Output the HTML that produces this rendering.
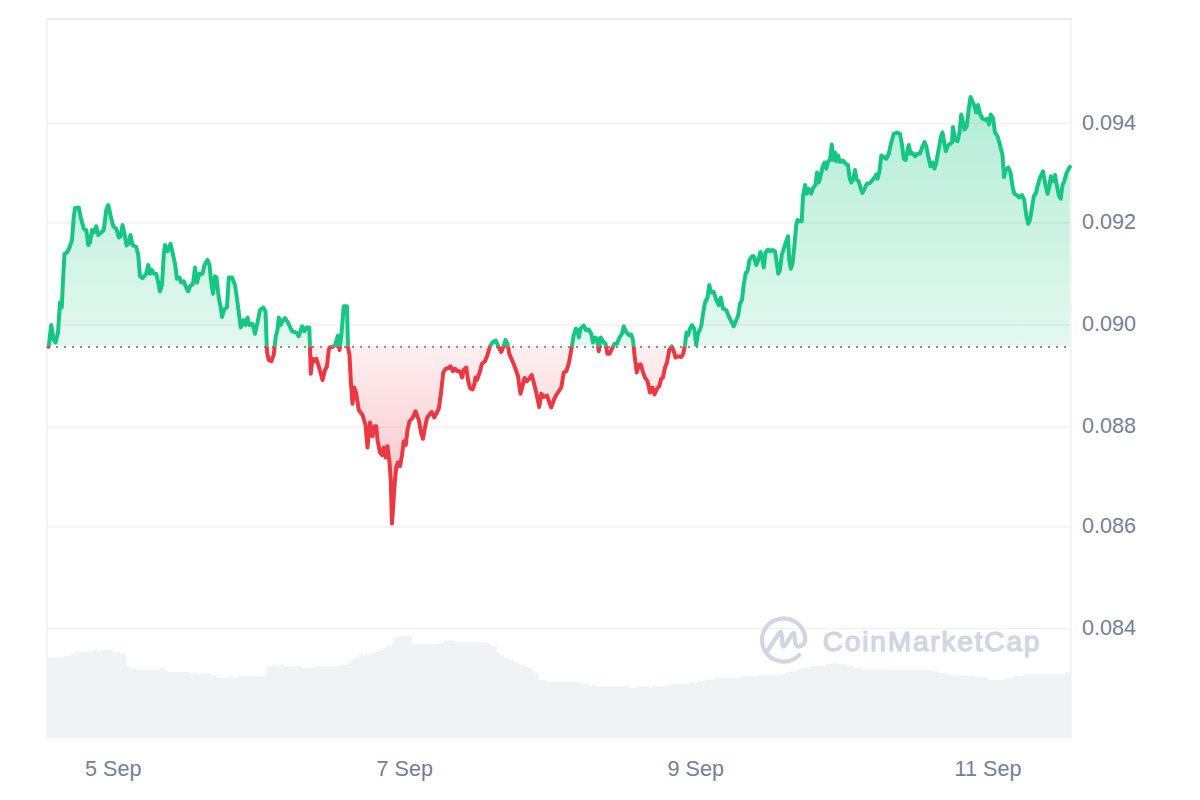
<!DOCTYPE html>
<html lang="en">
<head>
<meta charset="utf-8">
<title>Price chart</title>
<style>
html,body{margin:0;padding:0;background:#fff;}
body{width:1200px;height:800px;overflow:hidden;}
svg{display:block;}
text{font-family:"Liberation Sans",Arial,sans-serif;}
.ax{font-size:21.6px;fill:#73809a;}
.wm{font-size:28px;font-weight:normal;fill:#cfd6e4;stroke:#cfd6e4;stroke-width:1.25px;stroke-linejoin:round;stroke-linecap:round;}
</style>
</head>
<body>
<svg width="1200" height="800" viewBox="0 0 1200 800">
<defs>
<linearGradient id="gUp" gradientUnits="userSpaceOnUse" x1="0" y1="95" x2="0" y2="346.2"><stop offset="0" stop-color="#16c784" stop-opacity="0.33"/><stop offset="1" stop-color="#16c784" stop-opacity="0.12"/></linearGradient>
<linearGradient id="gDn" gradientUnits="userSpaceOnUse" x1="0" y1="346.2" x2="0" y2="525"><stop offset="0" stop-color="#ea3943" stop-opacity="0.075"/><stop offset="1" stop-color="#ea3943" stop-opacity="0.34"/></linearGradient>
<clipPath id="cUp"><rect x="0" y="0" width="1200" height="346.2"/></clipPath>
<clipPath id="cDn"><rect x="0" y="346.2" width="1200" height="453.8"/></clipPath>
</defs>
<rect width="1200" height="800" fill="#ffffff"/>
<g stroke="#f0f1f3" stroke-width="1.6" fill="none">
<line x1="47.0" y1="123.5" x2="1071.5" y2="123.5"/>
<line x1="47.0" y1="223.0" x2="1071.5" y2="223.0"/>
<line x1="47.0" y1="325.0" x2="1071.5" y2="325.0"/>
<line x1="47.0" y1="427.2" x2="1071.5" y2="427.2"/>
<line x1="47.0" y1="527.0" x2="1071.5" y2="527.0"/>
<line x1="47.0" y1="628.5" x2="1071.5" y2="628.5"/>
</g>
<path d="M46.5,737.5 L47.0,658.0 L58.8,658.0 L58.8,657.5 L63.8,657.5 L63.8,655.8 L71.2,655.8 L71.2,653.8 L75.0,653.8 L75.0,652.0 L92.5,652.0 L92.5,650.0 L97.5,650.0 L97.5,652.0 L100.0,652.0 L100.0,650.0 L113.8,650.0 L113.8,652.0 L120.0,652.0 L120.0,653.8 L126.2,653.8 L126.2,666.2 L130.0,666.2 L130.0,668.2 L136.2,668.2 L136.2,670.0 L160.0,670.0 L160.0,668.2 L165.0,668.2 L165.0,670.0 L167.5,670.0 L167.5,672.0 L190.0,672.0 L190.0,673.2 L195.0,673.2 L195.0,672.0 L197.5,672.0 L197.5,673.8 L211.2,673.8 L211.2,675.5 L217.5,675.5 L217.5,678.0 L230.0,678.0 L230.0,676.2 L232.0,676.2 L232.0,678.0 L237.5,678.0 L237.5,676.2 L266.2,676.2 L266.2,667.0 L268.8,667.0 L268.8,666.2 L273.8,666.2 L273.8,664.5 L276.2,664.5 L276.2,666.2 L280.0,666.2 L280.0,664.5 L283.8,664.5 L283.8,666.2 L301.2,666.2 L301.2,668.0 L315.0,668.0 L315.0,666.2 L340.0,666.2 L340.0,665.0 L347.5,665.0 L347.5,662.5 L351.2,662.5 L351.2,660.0 L355.0,660.0 L355.0,657.5 L358.8,657.5 L358.8,654.5 L362.5,654.5 L362.5,655.8 L365.0,655.8 L365.0,653.8 L372.5,653.8 L372.5,652.0 L378.8,652.0 L378.8,650.0 L382.5,650.0 L382.5,648.0 L386.2,648.0 L386.2,645.8 L392.5,645.8 L392.5,638.0 L396.2,638.0 L396.2,636.2 L412.5,636.2 L412.5,644.2 L438.8,644.2 L438.8,642.5 L443.8,642.5 L443.8,640.5 L455.0,640.5 L455.0,642.5 L488.8,642.5 L488.8,644.2 L491.2,644.2 L491.2,646.2 L497.0,646.2 L497.0,652.0 L500.0,652.0 L500.0,655.0 L503.8,655.0 L503.8,657.5 L508.8,657.5 L508.8,660.0 L513.8,660.0 L513.8,662.5 L518.8,662.5 L518.8,664.5 L525.0,664.5 L525.0,666.2 L528.8,666.2 L528.8,668.8 L532.5,668.8 L532.5,671.2 L535.0,671.2 L535.0,673.0 L538.8,673.0 L538.8,680.0 L545.0,680.0 L545.0,682.0 L581.2,682.0 L581.2,684.2 L590.0,684.2 L590.0,686.2 L593.0,686.2 L593.0,684.5 L595.0,684.5 L595.0,686.2 L630.0,686.2 L630.0,688.0 L636.2,688.0 L636.2,686.2 L640.0,686.2 L640.0,686.2 L650.0,686.2 L650.0,688.0 L652.5,688.0 L652.5,686.2 L670.0,686.2 L670.0,684.2 L690.0,684.2 L690.0,682.5 L697.5,682.5 L697.5,680.8 L705.0,680.8 L705.0,679.5 L715.0,679.5 L715.0,678.0 L740.0,678.0 L740.0,676.2 L757.5,676.2 L757.5,675.0 L780.0,675.0 L780.0,673.8 L785.0,673.8 L785.0,672.5 L790.0,672.5 L790.0,671.2 L797.5,671.2 L797.5,669.5 L802.5,669.5 L802.5,668.0 L808.8,668.0 L808.8,666.2 L815.0,666.2 L815.0,665.5 L825.0,665.5 L825.0,663.8 L832.5,663.8 L832.5,662.5 L837.5,662.5 L837.5,664.2 L845.0,664.2 L845.0,665.8 L855.0,665.8 L855.0,667.5 L862.5,667.5 L862.5,669.5 L890.0,669.5 L890.0,670.0 L900.0,670.0 L900.0,670.0 L931.7,670.0 L931.7,671.3 L938.3,671.3 L938.3,673.0 L948.3,673.0 L948.3,674.7 L955.0,674.7 L955.0,675.8 L975.0,675.8 L975.0,677.0 L988.3,677.0 L988.3,679.7 L1003.3,679.7 L1003.3,678.0 L1013.3,678.0 L1013.3,675.8 L1023.3,675.8 L1023.3,674.2 L1065.0,674.2 L1065.0,672.2 L1071.5,672.2 L1071.5,737.5 Z" fill="#f0f3f6"/>
<line x1="46.2" y1="19.0" x2="1071.8" y2="19.0" stroke="#e3e6ea" stroke-width="1.7"/>
<line x1="47.0" y1="19.0" x2="47.0" y2="737.5" stroke="#f1f2f4" stroke-width="1.5"/>
<line x1="1071.0" y1="19.0" x2="1071.0" y2="737.5" stroke="#f1f2f4" stroke-width="1.5"/>
<line x1="47.0" y1="737.5" x2="1071.5" y2="737.5" stroke="#f1f3f6" stroke-width="1.2"/>
<g id="watermark" fill="none" stroke="#cfd6e4" stroke-width="4.1" stroke-linecap="round" stroke-linejoin="round">
<path d="M767,651.5 L779.2,633 Q781.2,629.8 781.6,634 L782.4,644.5 Q783,648.6 785.3,645.2 L791.8,634.6 Q794.2,631 794.5,635.5 L795,641.5 Q795.8,647.5 800,646.4 Q803.6,645.3 805.1,641.9 A21.6,21.6 0 1 0 799.14,655"/>
</g>
<text class="wm" x="822.8" y="651.2" textLength="216.6" lengthAdjust="spacing">CoinMarketCap</text>
<path d="M48.40,346.70 L48.75,346.25 L51.25,325.00 L53.75,340.00 L55.50,342.50 L58.00,332.50 L60.00,302.50 L61.75,307.50 L63.00,280.00 L64.50,253.75 L67.00,252.50 L69.50,247.50 L72.00,240.00 L73.75,217.50 L75.00,208.00 L78.75,207.50 L80.75,217.50 L83.75,228.75 L86.25,230.00 L88.25,245.00 L90.00,242.50 L92.00,230.00 L93.75,232.50 L96.25,226.25 L98.25,235.00 L101.25,232.50 L103.75,230.00 L106.25,210.00 L108.25,205.00 L110.75,216.25 L113.25,226.25 L116.25,228.75 L118.75,237.50 L120.50,236.25 L122.50,225.00 L124.50,233.75 L126.50,245.50 L128.25,243.75 L130.50,235.00 L132.50,245.00 L136.25,247.00 L138.25,255.00 L140.00,276.25 L142.50,278.25 L146.25,273.75 L148.25,265.00 L150.00,273.75 L152.00,270.00 L153.75,273.75 L156.25,273.75 L158.25,282.50 L160.00,291.25 L162.00,285.00 L163.75,255.00 L165.00,245.00 L167.50,251.25 L170.50,243.75 L172.50,252.50 L175.00,263.75 L177.00,278.75 L179.50,277.50 L181.25,282.50 L183.75,281.25 L186.25,287.50 L188.25,291.25 L190.00,286.25 L193.00,283.75 L195.00,267.50 L197.00,282.50 L199.50,273.75 L202.50,273.75 L204.50,265.00 L207.50,260.00 L209.50,265.00 L211.25,282.50 L213.00,293.75 L215.00,276.25 L216.50,277.50 L218.75,297.50 L220.75,307.50 L222.00,317.00 L224.50,308.75 L227.00,307.50 L228.75,277.50 L232.00,277.50 L235.00,285.00 L237.50,302.50 L240.75,327.50 L243.75,320.00 L245.50,325.00 L247.50,317.50 L249.25,325.00 L252.50,323.75 L255.00,333.75 L257.50,322.50 L260.00,310.00 L263.25,307.50 L265.50,311.25 L267.00,352.50 L268.75,360.00 L271.25,361.25 L273.75,355.00 L275.75,336.25 L277.50,330.00 L278.75,317.50 L280.75,325.00 L282.50,321.25 L285.00,318.00 L288.00,322.50 L292.00,331.25 L296.25,332.50 L298.75,336.25 L302.00,326.25 L304.50,331.25 L306.25,327.50 L309.25,327.50 L310.00,347.50 L310.75,373.75 L312.50,358.75 L314.50,361.25 L316.25,358.75 L318.75,366.25 L322.50,380.00 L325.00,370.00 L327.00,366.25 L328.75,350.00 L330.00,347.00 L332.50,347.00 L335.00,345.00 L338.00,335.50 L339.50,350.00 L341.25,336.25 L343.75,306.25 L347.00,306.25 L348.00,347.50 L349.50,355.00 L350.75,380.00 L352.50,403.75 L354.25,387.50 L356.25,393.75 L358.75,410.00 L362.50,415.00 L365.50,425.00 L367.50,447.50 L370.00,422.50 L372.50,436.25 L374.50,426.25 L376.25,426.25 L377.50,440.00 L380.00,452.50 L382.00,455.00 L383.75,447.50 L385.50,457.50 L387.50,446.25 L389.50,462.50 L390.75,480.00 L392.00,523.60 L393.25,505.00 L395.00,480.00 L396.25,467.50 L398.00,462.50 L400.00,466.25 L402.00,455.00 L403.75,441.25 L405.75,445.00 L407.50,430.00 L409.50,421.25 L412.50,418.00 L415.50,411.25 L418.75,420.00 L421.25,433.75 L423.00,438.75 L425.00,427.50 L427.00,418.00 L430.00,413.75 L431.75,412.00 L434.25,417.50 L436.25,413.75 L438.75,408.75 L440.75,395.00 L443.25,372.50 L445.75,368.75 L448.75,368.00 L450.50,366.25 L453.00,371.25 L455.00,368.75 L457.50,371.25 L460.00,371.25 L462.00,377.50 L463.75,370.00 L466.25,367.50 L468.00,380.00 L470.00,388.00 L472.50,389.50 L474.50,383.75 L475.50,377.50 L477.00,380.00 L480.00,371.25 L482.00,363.75 L485.00,361.25 L487.50,355.00 L490.00,346.25 L492.50,342.50 L495.75,340.50 L498.00,345.50 L501.25,352.00 L503.25,347.00 L505.50,340.00 L507.50,343.75 L509.25,353.75 L512.50,361.25 L515.00,367.50 L518.00,376.25 L520.50,393.75 L522.50,386.25 L524.50,378.00 L527.00,381.25 L530.00,377.50 L531.75,375.00 L533.75,382.50 L536.25,392.50 L539.25,407.00 L541.25,393.75 L543.75,397.00 L547.00,395.50 L549.25,402.50 L551.25,407.50 L553.75,400.00 L556.25,395.00 L558.75,391.25 L561.25,387.50 L563.75,372.50 L566.25,371.25 L568.75,363.75 L571.25,350.00 L573.75,335.00 L575.75,328.75 L577.50,330.00 L578.75,337.50 L580.50,328.75 L583.75,325.50 L585.75,330.00 L588.75,329.50 L591.25,333.75 L593.00,342.50 L595.00,337.50 L597.00,338.75 L598.75,351.25 L600.75,337.50 L603.00,341.25 L605.50,343.75 L607.50,353.75 L609.50,353.75 L612.00,348.75 L614.50,343.75 L617.00,343.75 L619.50,337.50 L622.00,333.75 L623.75,326.25 L625.75,331.25 L628.75,335.00 L631.25,334.50 L633.00,340.00 L634.50,355.00 L636.75,372.50 L638.75,365.00 L640.75,364.50 L643.00,372.50 L645.00,377.50 L647.50,381.25 L650.00,392.50 L652.50,387.50 L654.50,394.50 L657.00,388.75 L659.25,386.25 L661.25,378.75 L663.00,377.50 L665.00,367.50 L667.00,362.50 L669.25,350.00 L671.75,346.25 L673.75,351.25 L675.50,357.50 L678.00,356.25 L681.25,357.00 L683.25,353.75 L685.00,345.00 L686.50,332.50 L688.25,335.00 L690.00,328.75 L692.00,325.00 L694.25,328.75 L696.25,345.00 L698.00,333.75 L701.25,326.25 L703.00,313.75 L705.00,302.50 L707.50,297.50 L709.25,285.00 L711.25,292.50 L713.75,292.00 L716.25,300.00 L718.75,305.00 L720.75,297.50 L723.00,308.75 L726.25,310.00 L728.75,316.25 L731.25,321.25 L733.75,326.25 L736.25,320.00 L738.00,316.25 L740.00,303.75 L742.00,300.00 L743.75,284.00 L745.75,273.00 L747.50,271.25 L749.50,260.00 L752.00,256.25 L753.75,256.25 L756.25,265.00 L758.25,260.00 L760.50,252.00 L762.50,260.00 L763.75,267.50 L765.50,252.50 L768.00,249.50 L770.50,251.25 L772.50,250.00 L775.00,251.25 L776.75,262.50 L778.25,273.75 L780.00,270.00 L781.75,255.00 L783.75,248.75 L786.25,241.25 L788.00,236.25 L789.25,260.00 L790.75,268.75 L792.50,263.75 L794.25,247.50 L796.25,225.00 L797.50,220.00 L800.00,221.25 L801.75,221.25 L803.00,196.25 L805.00,185.00 L806.75,193.75 L808.75,188.75 L811.25,193.75 L813.25,187.50 L815.50,185.00 L817.00,172.50 L818.75,182.50 L820.50,176.25 L822.50,167.50 L824.50,162.50 L826.25,168.75 L828.25,161.25 L830.00,160.00 L831.75,144.50 L833.25,160.00 L835.00,152.50 L836.25,161.25 L838.00,155.50 L840.00,162.00 L843.00,160.50 L845.50,163.75 L848.00,165.00 L849.50,177.50 L851.25,182.50 L853.25,178.75 L855.00,170.00 L856.75,180.00 L858.75,181.25 L860.75,188.75 L862.50,193.00 L864.50,188.75 L866.75,183.75 L870.00,183.00 L872.50,180.00 L874.50,177.50 L876.25,174.50 L877.50,178.75 L879.50,171.25 L881.25,155.50 L883.75,157.00 L886.25,158.75 L888.75,153.75 L891.25,142.50 L893.75,133.75 L897.00,132.50 L900.00,133.75 L902.00,145.00 L903.75,158.75 L905.75,160.00 L907.50,150.00 L908.75,145.00 L910.50,153.75 L912.50,153.00 L915.00,156.25 L917.50,153.75 L920.00,153.75 L922.50,146.25 L924.50,142.00 L926.25,146.25 L928.25,156.25 L930.50,166.25 L932.50,162.50 L934.50,168.75 L936.25,162.50 L938.75,148.75 L940.75,137.50 L942.50,132.50 L944.25,142.50 L945.75,151.25 L947.50,146.25 L950.00,143.75 L952.00,142.50 L953.00,127.00 L955.00,140.00 L957.50,141.25 L959.50,132.50 L961.25,114.50 L963.00,122.50 L964.50,129.50 L966.75,126.25 L968.75,108.75 L970.50,97.00 L972.50,101.25 L974.50,106.25 L976.25,112.50 L978.00,105.00 L980.00,113.75 L982.50,118.75 L985.50,120.00 L987.50,118.75 L989.00,124.50 L990.75,114.50 L993.00,118.00 L995.00,132.50 L997.50,136.25 L1000.00,145.00 L1002.50,155.00 L1004.00,177.00 L1005.75,170.00 L1008.25,167.50 L1010.50,172.50 L1012.50,186.25 L1014.25,193.75 L1016.75,195.00 L1019.25,197.50 L1022.00,195.00 L1024.25,200.00 L1026.25,215.00 L1028.25,223.75 L1030.00,220.00 L1032.00,207.50 L1033.75,196.25 L1035.75,193.75 L1037.50,186.25 L1040.00,177.50 L1043.00,171.25 L1045.00,182.50 L1047.50,193.75 L1049.25,187.50 L1050.75,176.25 L1053.00,181.25 L1055.00,175.00 L1056.75,185.00 L1058.75,195.00 L1060.75,198.75 L1062.50,185.00 L1064.25,181.25 L1066.25,173.75 L1068.00,170.00 L1069.50,167.50 L1069.90,166.80 L1069.90,346.2 L48.40,346.2 Z" fill="url(#gUp)" clip-path="url(#cUp)"/>
<path d="M48.40,346.70 L48.75,346.25 L51.25,325.00 L53.75,340.00 L55.50,342.50 L58.00,332.50 L60.00,302.50 L61.75,307.50 L63.00,280.00 L64.50,253.75 L67.00,252.50 L69.50,247.50 L72.00,240.00 L73.75,217.50 L75.00,208.00 L78.75,207.50 L80.75,217.50 L83.75,228.75 L86.25,230.00 L88.25,245.00 L90.00,242.50 L92.00,230.00 L93.75,232.50 L96.25,226.25 L98.25,235.00 L101.25,232.50 L103.75,230.00 L106.25,210.00 L108.25,205.00 L110.75,216.25 L113.25,226.25 L116.25,228.75 L118.75,237.50 L120.50,236.25 L122.50,225.00 L124.50,233.75 L126.50,245.50 L128.25,243.75 L130.50,235.00 L132.50,245.00 L136.25,247.00 L138.25,255.00 L140.00,276.25 L142.50,278.25 L146.25,273.75 L148.25,265.00 L150.00,273.75 L152.00,270.00 L153.75,273.75 L156.25,273.75 L158.25,282.50 L160.00,291.25 L162.00,285.00 L163.75,255.00 L165.00,245.00 L167.50,251.25 L170.50,243.75 L172.50,252.50 L175.00,263.75 L177.00,278.75 L179.50,277.50 L181.25,282.50 L183.75,281.25 L186.25,287.50 L188.25,291.25 L190.00,286.25 L193.00,283.75 L195.00,267.50 L197.00,282.50 L199.50,273.75 L202.50,273.75 L204.50,265.00 L207.50,260.00 L209.50,265.00 L211.25,282.50 L213.00,293.75 L215.00,276.25 L216.50,277.50 L218.75,297.50 L220.75,307.50 L222.00,317.00 L224.50,308.75 L227.00,307.50 L228.75,277.50 L232.00,277.50 L235.00,285.00 L237.50,302.50 L240.75,327.50 L243.75,320.00 L245.50,325.00 L247.50,317.50 L249.25,325.00 L252.50,323.75 L255.00,333.75 L257.50,322.50 L260.00,310.00 L263.25,307.50 L265.50,311.25 L267.00,352.50 L268.75,360.00 L271.25,361.25 L273.75,355.00 L275.75,336.25 L277.50,330.00 L278.75,317.50 L280.75,325.00 L282.50,321.25 L285.00,318.00 L288.00,322.50 L292.00,331.25 L296.25,332.50 L298.75,336.25 L302.00,326.25 L304.50,331.25 L306.25,327.50 L309.25,327.50 L310.00,347.50 L310.75,373.75 L312.50,358.75 L314.50,361.25 L316.25,358.75 L318.75,366.25 L322.50,380.00 L325.00,370.00 L327.00,366.25 L328.75,350.00 L330.00,347.00 L332.50,347.00 L335.00,345.00 L338.00,335.50 L339.50,350.00 L341.25,336.25 L343.75,306.25 L347.00,306.25 L348.00,347.50 L349.50,355.00 L350.75,380.00 L352.50,403.75 L354.25,387.50 L356.25,393.75 L358.75,410.00 L362.50,415.00 L365.50,425.00 L367.50,447.50 L370.00,422.50 L372.50,436.25 L374.50,426.25 L376.25,426.25 L377.50,440.00 L380.00,452.50 L382.00,455.00 L383.75,447.50 L385.50,457.50 L387.50,446.25 L389.50,462.50 L390.75,480.00 L392.00,523.60 L393.25,505.00 L395.00,480.00 L396.25,467.50 L398.00,462.50 L400.00,466.25 L402.00,455.00 L403.75,441.25 L405.75,445.00 L407.50,430.00 L409.50,421.25 L412.50,418.00 L415.50,411.25 L418.75,420.00 L421.25,433.75 L423.00,438.75 L425.00,427.50 L427.00,418.00 L430.00,413.75 L431.75,412.00 L434.25,417.50 L436.25,413.75 L438.75,408.75 L440.75,395.00 L443.25,372.50 L445.75,368.75 L448.75,368.00 L450.50,366.25 L453.00,371.25 L455.00,368.75 L457.50,371.25 L460.00,371.25 L462.00,377.50 L463.75,370.00 L466.25,367.50 L468.00,380.00 L470.00,388.00 L472.50,389.50 L474.50,383.75 L475.50,377.50 L477.00,380.00 L480.00,371.25 L482.00,363.75 L485.00,361.25 L487.50,355.00 L490.00,346.25 L492.50,342.50 L495.75,340.50 L498.00,345.50 L501.25,352.00 L503.25,347.00 L505.50,340.00 L507.50,343.75 L509.25,353.75 L512.50,361.25 L515.00,367.50 L518.00,376.25 L520.50,393.75 L522.50,386.25 L524.50,378.00 L527.00,381.25 L530.00,377.50 L531.75,375.00 L533.75,382.50 L536.25,392.50 L539.25,407.00 L541.25,393.75 L543.75,397.00 L547.00,395.50 L549.25,402.50 L551.25,407.50 L553.75,400.00 L556.25,395.00 L558.75,391.25 L561.25,387.50 L563.75,372.50 L566.25,371.25 L568.75,363.75 L571.25,350.00 L573.75,335.00 L575.75,328.75 L577.50,330.00 L578.75,337.50 L580.50,328.75 L583.75,325.50 L585.75,330.00 L588.75,329.50 L591.25,333.75 L593.00,342.50 L595.00,337.50 L597.00,338.75 L598.75,351.25 L600.75,337.50 L603.00,341.25 L605.50,343.75 L607.50,353.75 L609.50,353.75 L612.00,348.75 L614.50,343.75 L617.00,343.75 L619.50,337.50 L622.00,333.75 L623.75,326.25 L625.75,331.25 L628.75,335.00 L631.25,334.50 L633.00,340.00 L634.50,355.00 L636.75,372.50 L638.75,365.00 L640.75,364.50 L643.00,372.50 L645.00,377.50 L647.50,381.25 L650.00,392.50 L652.50,387.50 L654.50,394.50 L657.00,388.75 L659.25,386.25 L661.25,378.75 L663.00,377.50 L665.00,367.50 L667.00,362.50 L669.25,350.00 L671.75,346.25 L673.75,351.25 L675.50,357.50 L678.00,356.25 L681.25,357.00 L683.25,353.75 L685.00,345.00 L686.50,332.50 L688.25,335.00 L690.00,328.75 L692.00,325.00 L694.25,328.75 L696.25,345.00 L698.00,333.75 L701.25,326.25 L703.00,313.75 L705.00,302.50 L707.50,297.50 L709.25,285.00 L711.25,292.50 L713.75,292.00 L716.25,300.00 L718.75,305.00 L720.75,297.50 L723.00,308.75 L726.25,310.00 L728.75,316.25 L731.25,321.25 L733.75,326.25 L736.25,320.00 L738.00,316.25 L740.00,303.75 L742.00,300.00 L743.75,284.00 L745.75,273.00 L747.50,271.25 L749.50,260.00 L752.00,256.25 L753.75,256.25 L756.25,265.00 L758.25,260.00 L760.50,252.00 L762.50,260.00 L763.75,267.50 L765.50,252.50 L768.00,249.50 L770.50,251.25 L772.50,250.00 L775.00,251.25 L776.75,262.50 L778.25,273.75 L780.00,270.00 L781.75,255.00 L783.75,248.75 L786.25,241.25 L788.00,236.25 L789.25,260.00 L790.75,268.75 L792.50,263.75 L794.25,247.50 L796.25,225.00 L797.50,220.00 L800.00,221.25 L801.75,221.25 L803.00,196.25 L805.00,185.00 L806.75,193.75 L808.75,188.75 L811.25,193.75 L813.25,187.50 L815.50,185.00 L817.00,172.50 L818.75,182.50 L820.50,176.25 L822.50,167.50 L824.50,162.50 L826.25,168.75 L828.25,161.25 L830.00,160.00 L831.75,144.50 L833.25,160.00 L835.00,152.50 L836.25,161.25 L838.00,155.50 L840.00,162.00 L843.00,160.50 L845.50,163.75 L848.00,165.00 L849.50,177.50 L851.25,182.50 L853.25,178.75 L855.00,170.00 L856.75,180.00 L858.75,181.25 L860.75,188.75 L862.50,193.00 L864.50,188.75 L866.75,183.75 L870.00,183.00 L872.50,180.00 L874.50,177.50 L876.25,174.50 L877.50,178.75 L879.50,171.25 L881.25,155.50 L883.75,157.00 L886.25,158.75 L888.75,153.75 L891.25,142.50 L893.75,133.75 L897.00,132.50 L900.00,133.75 L902.00,145.00 L903.75,158.75 L905.75,160.00 L907.50,150.00 L908.75,145.00 L910.50,153.75 L912.50,153.00 L915.00,156.25 L917.50,153.75 L920.00,153.75 L922.50,146.25 L924.50,142.00 L926.25,146.25 L928.25,156.25 L930.50,166.25 L932.50,162.50 L934.50,168.75 L936.25,162.50 L938.75,148.75 L940.75,137.50 L942.50,132.50 L944.25,142.50 L945.75,151.25 L947.50,146.25 L950.00,143.75 L952.00,142.50 L953.00,127.00 L955.00,140.00 L957.50,141.25 L959.50,132.50 L961.25,114.50 L963.00,122.50 L964.50,129.50 L966.75,126.25 L968.75,108.75 L970.50,97.00 L972.50,101.25 L974.50,106.25 L976.25,112.50 L978.00,105.00 L980.00,113.75 L982.50,118.75 L985.50,120.00 L987.50,118.75 L989.00,124.50 L990.75,114.50 L993.00,118.00 L995.00,132.50 L997.50,136.25 L1000.00,145.00 L1002.50,155.00 L1004.00,177.00 L1005.75,170.00 L1008.25,167.50 L1010.50,172.50 L1012.50,186.25 L1014.25,193.75 L1016.75,195.00 L1019.25,197.50 L1022.00,195.00 L1024.25,200.00 L1026.25,215.00 L1028.25,223.75 L1030.00,220.00 L1032.00,207.50 L1033.75,196.25 L1035.75,193.75 L1037.50,186.25 L1040.00,177.50 L1043.00,171.25 L1045.00,182.50 L1047.50,193.75 L1049.25,187.50 L1050.75,176.25 L1053.00,181.25 L1055.00,175.00 L1056.75,185.00 L1058.75,195.00 L1060.75,198.75 L1062.50,185.00 L1064.25,181.25 L1066.25,173.75 L1068.00,170.00 L1069.50,167.50 L1069.90,166.80 L1069.90,346.2 L48.40,346.2 Z" fill="url(#gDn)" clip-path="url(#cDn)"/>
<line x1="48" y1="347" x2="1070.5" y2="347" stroke="#858e9c" stroke-width="2" stroke-dasharray="2 6"/>
<path d="M48.40,346.70 L48.75,346.25 L51.25,325.00 L53.75,340.00 L55.50,342.50 L58.00,332.50 L60.00,302.50 L61.75,307.50 L63.00,280.00 L64.50,253.75 L67.00,252.50 L69.50,247.50 L72.00,240.00 L73.75,217.50 L75.00,208.00 L78.75,207.50 L80.75,217.50 L83.75,228.75 L86.25,230.00 L88.25,245.00 L90.00,242.50 L92.00,230.00 L93.75,232.50 L96.25,226.25 L98.25,235.00 L101.25,232.50 L103.75,230.00 L106.25,210.00 L108.25,205.00 L110.75,216.25 L113.25,226.25 L116.25,228.75 L118.75,237.50 L120.50,236.25 L122.50,225.00 L124.50,233.75 L126.50,245.50 L128.25,243.75 L130.50,235.00 L132.50,245.00 L136.25,247.00 L138.25,255.00 L140.00,276.25 L142.50,278.25 L146.25,273.75 L148.25,265.00 L150.00,273.75 L152.00,270.00 L153.75,273.75 L156.25,273.75 L158.25,282.50 L160.00,291.25 L162.00,285.00 L163.75,255.00 L165.00,245.00 L167.50,251.25 L170.50,243.75 L172.50,252.50 L175.00,263.75 L177.00,278.75 L179.50,277.50 L181.25,282.50 L183.75,281.25 L186.25,287.50 L188.25,291.25 L190.00,286.25 L193.00,283.75 L195.00,267.50 L197.00,282.50 L199.50,273.75 L202.50,273.75 L204.50,265.00 L207.50,260.00 L209.50,265.00 L211.25,282.50 L213.00,293.75 L215.00,276.25 L216.50,277.50 L218.75,297.50 L220.75,307.50 L222.00,317.00 L224.50,308.75 L227.00,307.50 L228.75,277.50 L232.00,277.50 L235.00,285.00 L237.50,302.50 L240.75,327.50 L243.75,320.00 L245.50,325.00 L247.50,317.50 L249.25,325.00 L252.50,323.75 L255.00,333.75 L257.50,322.50 L260.00,310.00 L263.25,307.50 L265.50,311.25 L267.00,352.50 L268.75,360.00 L271.25,361.25 L273.75,355.00 L275.75,336.25 L277.50,330.00 L278.75,317.50 L280.75,325.00 L282.50,321.25 L285.00,318.00 L288.00,322.50 L292.00,331.25 L296.25,332.50 L298.75,336.25 L302.00,326.25 L304.50,331.25 L306.25,327.50 L309.25,327.50 L310.00,347.50 L310.75,373.75 L312.50,358.75 L314.50,361.25 L316.25,358.75 L318.75,366.25 L322.50,380.00 L325.00,370.00 L327.00,366.25 L328.75,350.00 L330.00,347.00 L332.50,347.00 L335.00,345.00 L338.00,335.50 L339.50,350.00 L341.25,336.25 L343.75,306.25 L347.00,306.25 L348.00,347.50 L349.50,355.00 L350.75,380.00 L352.50,403.75 L354.25,387.50 L356.25,393.75 L358.75,410.00 L362.50,415.00 L365.50,425.00 L367.50,447.50 L370.00,422.50 L372.50,436.25 L374.50,426.25 L376.25,426.25 L377.50,440.00 L380.00,452.50 L382.00,455.00 L383.75,447.50 L385.50,457.50 L387.50,446.25 L389.50,462.50 L390.75,480.00 L392.00,523.60 L393.25,505.00 L395.00,480.00 L396.25,467.50 L398.00,462.50 L400.00,466.25 L402.00,455.00 L403.75,441.25 L405.75,445.00 L407.50,430.00 L409.50,421.25 L412.50,418.00 L415.50,411.25 L418.75,420.00 L421.25,433.75 L423.00,438.75 L425.00,427.50 L427.00,418.00 L430.00,413.75 L431.75,412.00 L434.25,417.50 L436.25,413.75 L438.75,408.75 L440.75,395.00 L443.25,372.50 L445.75,368.75 L448.75,368.00 L450.50,366.25 L453.00,371.25 L455.00,368.75 L457.50,371.25 L460.00,371.25 L462.00,377.50 L463.75,370.00 L466.25,367.50 L468.00,380.00 L470.00,388.00 L472.50,389.50 L474.50,383.75 L475.50,377.50 L477.00,380.00 L480.00,371.25 L482.00,363.75 L485.00,361.25 L487.50,355.00 L490.00,346.25 L492.50,342.50 L495.75,340.50 L498.00,345.50 L501.25,352.00 L503.25,347.00 L505.50,340.00 L507.50,343.75 L509.25,353.75 L512.50,361.25 L515.00,367.50 L518.00,376.25 L520.50,393.75 L522.50,386.25 L524.50,378.00 L527.00,381.25 L530.00,377.50 L531.75,375.00 L533.75,382.50 L536.25,392.50 L539.25,407.00 L541.25,393.75 L543.75,397.00 L547.00,395.50 L549.25,402.50 L551.25,407.50 L553.75,400.00 L556.25,395.00 L558.75,391.25 L561.25,387.50 L563.75,372.50 L566.25,371.25 L568.75,363.75 L571.25,350.00 L573.75,335.00 L575.75,328.75 L577.50,330.00 L578.75,337.50 L580.50,328.75 L583.75,325.50 L585.75,330.00 L588.75,329.50 L591.25,333.75 L593.00,342.50 L595.00,337.50 L597.00,338.75 L598.75,351.25 L600.75,337.50 L603.00,341.25 L605.50,343.75 L607.50,353.75 L609.50,353.75 L612.00,348.75 L614.50,343.75 L617.00,343.75 L619.50,337.50 L622.00,333.75 L623.75,326.25 L625.75,331.25 L628.75,335.00 L631.25,334.50 L633.00,340.00 L634.50,355.00 L636.75,372.50 L638.75,365.00 L640.75,364.50 L643.00,372.50 L645.00,377.50 L647.50,381.25 L650.00,392.50 L652.50,387.50 L654.50,394.50 L657.00,388.75 L659.25,386.25 L661.25,378.75 L663.00,377.50 L665.00,367.50 L667.00,362.50 L669.25,350.00 L671.75,346.25 L673.75,351.25 L675.50,357.50 L678.00,356.25 L681.25,357.00 L683.25,353.75 L685.00,345.00 L686.50,332.50 L688.25,335.00 L690.00,328.75 L692.00,325.00 L694.25,328.75 L696.25,345.00 L698.00,333.75 L701.25,326.25 L703.00,313.75 L705.00,302.50 L707.50,297.50 L709.25,285.00 L711.25,292.50 L713.75,292.00 L716.25,300.00 L718.75,305.00 L720.75,297.50 L723.00,308.75 L726.25,310.00 L728.75,316.25 L731.25,321.25 L733.75,326.25 L736.25,320.00 L738.00,316.25 L740.00,303.75 L742.00,300.00 L743.75,284.00 L745.75,273.00 L747.50,271.25 L749.50,260.00 L752.00,256.25 L753.75,256.25 L756.25,265.00 L758.25,260.00 L760.50,252.00 L762.50,260.00 L763.75,267.50 L765.50,252.50 L768.00,249.50 L770.50,251.25 L772.50,250.00 L775.00,251.25 L776.75,262.50 L778.25,273.75 L780.00,270.00 L781.75,255.00 L783.75,248.75 L786.25,241.25 L788.00,236.25 L789.25,260.00 L790.75,268.75 L792.50,263.75 L794.25,247.50 L796.25,225.00 L797.50,220.00 L800.00,221.25 L801.75,221.25 L803.00,196.25 L805.00,185.00 L806.75,193.75 L808.75,188.75 L811.25,193.75 L813.25,187.50 L815.50,185.00 L817.00,172.50 L818.75,182.50 L820.50,176.25 L822.50,167.50 L824.50,162.50 L826.25,168.75 L828.25,161.25 L830.00,160.00 L831.75,144.50 L833.25,160.00 L835.00,152.50 L836.25,161.25 L838.00,155.50 L840.00,162.00 L843.00,160.50 L845.50,163.75 L848.00,165.00 L849.50,177.50 L851.25,182.50 L853.25,178.75 L855.00,170.00 L856.75,180.00 L858.75,181.25 L860.75,188.75 L862.50,193.00 L864.50,188.75 L866.75,183.75 L870.00,183.00 L872.50,180.00 L874.50,177.50 L876.25,174.50 L877.50,178.75 L879.50,171.25 L881.25,155.50 L883.75,157.00 L886.25,158.75 L888.75,153.75 L891.25,142.50 L893.75,133.75 L897.00,132.50 L900.00,133.75 L902.00,145.00 L903.75,158.75 L905.75,160.00 L907.50,150.00 L908.75,145.00 L910.50,153.75 L912.50,153.00 L915.00,156.25 L917.50,153.75 L920.00,153.75 L922.50,146.25 L924.50,142.00 L926.25,146.25 L928.25,156.25 L930.50,166.25 L932.50,162.50 L934.50,168.75 L936.25,162.50 L938.75,148.75 L940.75,137.50 L942.50,132.50 L944.25,142.50 L945.75,151.25 L947.50,146.25 L950.00,143.75 L952.00,142.50 L953.00,127.00 L955.00,140.00 L957.50,141.25 L959.50,132.50 L961.25,114.50 L963.00,122.50 L964.50,129.50 L966.75,126.25 L968.75,108.75 L970.50,97.00 L972.50,101.25 L974.50,106.25 L976.25,112.50 L978.00,105.00 L980.00,113.75 L982.50,118.75 L985.50,120.00 L987.50,118.75 L989.00,124.50 L990.75,114.50 L993.00,118.00 L995.00,132.50 L997.50,136.25 L1000.00,145.00 L1002.50,155.00 L1004.00,177.00 L1005.75,170.00 L1008.25,167.50 L1010.50,172.50 L1012.50,186.25 L1014.25,193.75 L1016.75,195.00 L1019.25,197.50 L1022.00,195.00 L1024.25,200.00 L1026.25,215.00 L1028.25,223.75 L1030.00,220.00 L1032.00,207.50 L1033.75,196.25 L1035.75,193.75 L1037.50,186.25 L1040.00,177.50 L1043.00,171.25 L1045.00,182.50 L1047.50,193.75 L1049.25,187.50 L1050.75,176.25 L1053.00,181.25 L1055.00,175.00 L1056.75,185.00 L1058.75,195.00 L1060.75,198.75 L1062.50,185.00 L1064.25,181.25 L1066.25,173.75 L1068.00,170.00 L1069.50,167.50 L1069.90,166.80" fill="none" stroke="#16c784" stroke-width="4.0" stroke-linejoin="round" stroke-linecap="round" clip-path="url(#cUp)"/>
<path d="M48.40,346.70 L48.75,346.25 L51.25,325.00 L53.75,340.00 L55.50,342.50 L58.00,332.50 L60.00,302.50 L61.75,307.50 L63.00,280.00 L64.50,253.75 L67.00,252.50 L69.50,247.50 L72.00,240.00 L73.75,217.50 L75.00,208.00 L78.75,207.50 L80.75,217.50 L83.75,228.75 L86.25,230.00 L88.25,245.00 L90.00,242.50 L92.00,230.00 L93.75,232.50 L96.25,226.25 L98.25,235.00 L101.25,232.50 L103.75,230.00 L106.25,210.00 L108.25,205.00 L110.75,216.25 L113.25,226.25 L116.25,228.75 L118.75,237.50 L120.50,236.25 L122.50,225.00 L124.50,233.75 L126.50,245.50 L128.25,243.75 L130.50,235.00 L132.50,245.00 L136.25,247.00 L138.25,255.00 L140.00,276.25 L142.50,278.25 L146.25,273.75 L148.25,265.00 L150.00,273.75 L152.00,270.00 L153.75,273.75 L156.25,273.75 L158.25,282.50 L160.00,291.25 L162.00,285.00 L163.75,255.00 L165.00,245.00 L167.50,251.25 L170.50,243.75 L172.50,252.50 L175.00,263.75 L177.00,278.75 L179.50,277.50 L181.25,282.50 L183.75,281.25 L186.25,287.50 L188.25,291.25 L190.00,286.25 L193.00,283.75 L195.00,267.50 L197.00,282.50 L199.50,273.75 L202.50,273.75 L204.50,265.00 L207.50,260.00 L209.50,265.00 L211.25,282.50 L213.00,293.75 L215.00,276.25 L216.50,277.50 L218.75,297.50 L220.75,307.50 L222.00,317.00 L224.50,308.75 L227.00,307.50 L228.75,277.50 L232.00,277.50 L235.00,285.00 L237.50,302.50 L240.75,327.50 L243.75,320.00 L245.50,325.00 L247.50,317.50 L249.25,325.00 L252.50,323.75 L255.00,333.75 L257.50,322.50 L260.00,310.00 L263.25,307.50 L265.50,311.25 L267.00,352.50 L268.75,360.00 L271.25,361.25 L273.75,355.00 L275.75,336.25 L277.50,330.00 L278.75,317.50 L280.75,325.00 L282.50,321.25 L285.00,318.00 L288.00,322.50 L292.00,331.25 L296.25,332.50 L298.75,336.25 L302.00,326.25 L304.50,331.25 L306.25,327.50 L309.25,327.50 L310.00,347.50 L310.75,373.75 L312.50,358.75 L314.50,361.25 L316.25,358.75 L318.75,366.25 L322.50,380.00 L325.00,370.00 L327.00,366.25 L328.75,350.00 L330.00,347.00 L332.50,347.00 L335.00,345.00 L338.00,335.50 L339.50,350.00 L341.25,336.25 L343.75,306.25 L347.00,306.25 L348.00,347.50 L349.50,355.00 L350.75,380.00 L352.50,403.75 L354.25,387.50 L356.25,393.75 L358.75,410.00 L362.50,415.00 L365.50,425.00 L367.50,447.50 L370.00,422.50 L372.50,436.25 L374.50,426.25 L376.25,426.25 L377.50,440.00 L380.00,452.50 L382.00,455.00 L383.75,447.50 L385.50,457.50 L387.50,446.25 L389.50,462.50 L390.75,480.00 L392.00,523.60 L393.25,505.00 L395.00,480.00 L396.25,467.50 L398.00,462.50 L400.00,466.25 L402.00,455.00 L403.75,441.25 L405.75,445.00 L407.50,430.00 L409.50,421.25 L412.50,418.00 L415.50,411.25 L418.75,420.00 L421.25,433.75 L423.00,438.75 L425.00,427.50 L427.00,418.00 L430.00,413.75 L431.75,412.00 L434.25,417.50 L436.25,413.75 L438.75,408.75 L440.75,395.00 L443.25,372.50 L445.75,368.75 L448.75,368.00 L450.50,366.25 L453.00,371.25 L455.00,368.75 L457.50,371.25 L460.00,371.25 L462.00,377.50 L463.75,370.00 L466.25,367.50 L468.00,380.00 L470.00,388.00 L472.50,389.50 L474.50,383.75 L475.50,377.50 L477.00,380.00 L480.00,371.25 L482.00,363.75 L485.00,361.25 L487.50,355.00 L490.00,346.25 L492.50,342.50 L495.75,340.50 L498.00,345.50 L501.25,352.00 L503.25,347.00 L505.50,340.00 L507.50,343.75 L509.25,353.75 L512.50,361.25 L515.00,367.50 L518.00,376.25 L520.50,393.75 L522.50,386.25 L524.50,378.00 L527.00,381.25 L530.00,377.50 L531.75,375.00 L533.75,382.50 L536.25,392.50 L539.25,407.00 L541.25,393.75 L543.75,397.00 L547.00,395.50 L549.25,402.50 L551.25,407.50 L553.75,400.00 L556.25,395.00 L558.75,391.25 L561.25,387.50 L563.75,372.50 L566.25,371.25 L568.75,363.75 L571.25,350.00 L573.75,335.00 L575.75,328.75 L577.50,330.00 L578.75,337.50 L580.50,328.75 L583.75,325.50 L585.75,330.00 L588.75,329.50 L591.25,333.75 L593.00,342.50 L595.00,337.50 L597.00,338.75 L598.75,351.25 L600.75,337.50 L603.00,341.25 L605.50,343.75 L607.50,353.75 L609.50,353.75 L612.00,348.75 L614.50,343.75 L617.00,343.75 L619.50,337.50 L622.00,333.75 L623.75,326.25 L625.75,331.25 L628.75,335.00 L631.25,334.50 L633.00,340.00 L634.50,355.00 L636.75,372.50 L638.75,365.00 L640.75,364.50 L643.00,372.50 L645.00,377.50 L647.50,381.25 L650.00,392.50 L652.50,387.50 L654.50,394.50 L657.00,388.75 L659.25,386.25 L661.25,378.75 L663.00,377.50 L665.00,367.50 L667.00,362.50 L669.25,350.00 L671.75,346.25 L673.75,351.25 L675.50,357.50 L678.00,356.25 L681.25,357.00 L683.25,353.75 L685.00,345.00 L686.50,332.50 L688.25,335.00 L690.00,328.75 L692.00,325.00 L694.25,328.75 L696.25,345.00 L698.00,333.75 L701.25,326.25 L703.00,313.75 L705.00,302.50 L707.50,297.50 L709.25,285.00 L711.25,292.50 L713.75,292.00 L716.25,300.00 L718.75,305.00 L720.75,297.50 L723.00,308.75 L726.25,310.00 L728.75,316.25 L731.25,321.25 L733.75,326.25 L736.25,320.00 L738.00,316.25 L740.00,303.75 L742.00,300.00 L743.75,284.00 L745.75,273.00 L747.50,271.25 L749.50,260.00 L752.00,256.25 L753.75,256.25 L756.25,265.00 L758.25,260.00 L760.50,252.00 L762.50,260.00 L763.75,267.50 L765.50,252.50 L768.00,249.50 L770.50,251.25 L772.50,250.00 L775.00,251.25 L776.75,262.50 L778.25,273.75 L780.00,270.00 L781.75,255.00 L783.75,248.75 L786.25,241.25 L788.00,236.25 L789.25,260.00 L790.75,268.75 L792.50,263.75 L794.25,247.50 L796.25,225.00 L797.50,220.00 L800.00,221.25 L801.75,221.25 L803.00,196.25 L805.00,185.00 L806.75,193.75 L808.75,188.75 L811.25,193.75 L813.25,187.50 L815.50,185.00 L817.00,172.50 L818.75,182.50 L820.50,176.25 L822.50,167.50 L824.50,162.50 L826.25,168.75 L828.25,161.25 L830.00,160.00 L831.75,144.50 L833.25,160.00 L835.00,152.50 L836.25,161.25 L838.00,155.50 L840.00,162.00 L843.00,160.50 L845.50,163.75 L848.00,165.00 L849.50,177.50 L851.25,182.50 L853.25,178.75 L855.00,170.00 L856.75,180.00 L858.75,181.25 L860.75,188.75 L862.50,193.00 L864.50,188.75 L866.75,183.75 L870.00,183.00 L872.50,180.00 L874.50,177.50 L876.25,174.50 L877.50,178.75 L879.50,171.25 L881.25,155.50 L883.75,157.00 L886.25,158.75 L888.75,153.75 L891.25,142.50 L893.75,133.75 L897.00,132.50 L900.00,133.75 L902.00,145.00 L903.75,158.75 L905.75,160.00 L907.50,150.00 L908.75,145.00 L910.50,153.75 L912.50,153.00 L915.00,156.25 L917.50,153.75 L920.00,153.75 L922.50,146.25 L924.50,142.00 L926.25,146.25 L928.25,156.25 L930.50,166.25 L932.50,162.50 L934.50,168.75 L936.25,162.50 L938.75,148.75 L940.75,137.50 L942.50,132.50 L944.25,142.50 L945.75,151.25 L947.50,146.25 L950.00,143.75 L952.00,142.50 L953.00,127.00 L955.00,140.00 L957.50,141.25 L959.50,132.50 L961.25,114.50 L963.00,122.50 L964.50,129.50 L966.75,126.25 L968.75,108.75 L970.50,97.00 L972.50,101.25 L974.50,106.25 L976.25,112.50 L978.00,105.00 L980.00,113.75 L982.50,118.75 L985.50,120.00 L987.50,118.75 L989.00,124.50 L990.75,114.50 L993.00,118.00 L995.00,132.50 L997.50,136.25 L1000.00,145.00 L1002.50,155.00 L1004.00,177.00 L1005.75,170.00 L1008.25,167.50 L1010.50,172.50 L1012.50,186.25 L1014.25,193.75 L1016.75,195.00 L1019.25,197.50 L1022.00,195.00 L1024.25,200.00 L1026.25,215.00 L1028.25,223.75 L1030.00,220.00 L1032.00,207.50 L1033.75,196.25 L1035.75,193.75 L1037.50,186.25 L1040.00,177.50 L1043.00,171.25 L1045.00,182.50 L1047.50,193.75 L1049.25,187.50 L1050.75,176.25 L1053.00,181.25 L1055.00,175.00 L1056.75,185.00 L1058.75,195.00 L1060.75,198.75 L1062.50,185.00 L1064.25,181.25 L1066.25,173.75 L1068.00,170.00 L1069.50,167.50 L1069.90,166.80" fill="none" stroke="#ea3943" stroke-width="4.0" stroke-linejoin="round" stroke-linecap="round" clip-path="url(#cDn)"/>
<text class="ax" transform="translate(1081.9,129.7) scale(1,1.045)">0.094</text>
<text class="ax" transform="translate(1081.9,229.2) scale(1,1.045)">0.092</text>
<text class="ax" transform="translate(1081.9,331.2) scale(1,1.045)">0.090</text>
<text class="ax" transform="translate(1081.9,433.4) scale(1,1.045)">0.088</text>
<text class="ax" transform="translate(1081.9,533.2) scale(1,1.045)">0.086</text>
<text class="ax" transform="translate(1081.9,634.7) scale(1,1.045)">0.084</text>
<text class="ax" transform="translate(113.2,776) scale(1,1.045)" text-anchor="middle">5 Sep</text>
<text class="ax" transform="translate(404.7,776) scale(1,1.045)" text-anchor="middle">7 Sep</text>
<text class="ax" transform="translate(695.8,776) scale(1,1.045)" text-anchor="middle">9 Sep</text>
<text class="ax" transform="translate(988.0,776) scale(1,1.045)" text-anchor="middle">11 Sep</text>
</svg>
</body>
</html>
